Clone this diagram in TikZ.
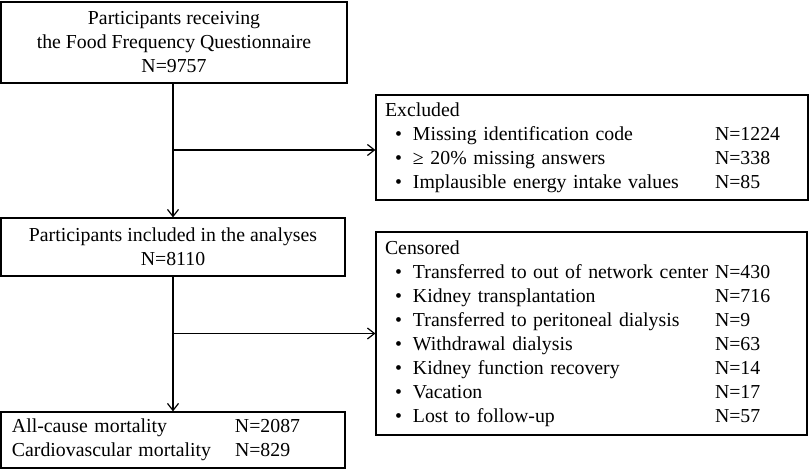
\documentclass[tikz,border=0pt]{standalone}
\usepackage{fontspec}
\setmainfont{Liberation Serif}
\usetikzlibrary{positioning,arrows.meta}

\tikzset{
    flowbox/.style={draw, line width=1.2pt, rectangle, inner sep=0pt, font=\fontsize{19.8}{24}\selectfont},
    flowarrow/.style={line width=1.2pt, -{Straight Barb[length=7pt,width=11pt]}},
}
\newcommand{\bulletrow}[2]{\hspace*{10pt}\makebox[18pt][l]{\textbullet}\makebox[302pt][l]{#1}#2}
\newcommand{\outcomerow}[2]{\makebox[223pt][l]{#1}#2}

\begin{document}
\begin{tikzpicture}[x=1pt,y=-1pt]
    \useasboundingbox (0,0) rectangle (812,470);

    % left column
    \node[flowbox, align=center, minimum width=346pt, minimum height=81pt] (recv) at (174,42.5)
        {Participants receiving\\the Food Frequency Questionnaire\\N=9757};
    \node[flowbox, align=center, minimum width=344pt, minimum height=58pt] (incl) at (173,247)
        {Participants included in the analyses\\N=8110};
    \node[flowbox, align=left, text width=322pt, inner xsep=11pt, minimum height=56pt] (mort) at (173,440)
        {\outcomerow{All-cause mortality}{N=2087}\\
         \outcomerow{Cardiovascular mortality}{N=829}};

    % right column
    \node[flowbox, align=left, text width=414pt, inner xsep=9pt, minimum height=105pt] (excl) at (592,147.5)
        {Excluded\\
         \bulletrow{Missing identification code}{N=1224}\\
         \bulletrow{≥ 20\% missing answers}{N=338}\\
         \bulletrow{Implausible energy intake values}{N=85}};
    \node[flowbox, align=left, text width=413pt, inner xsep=9pt, minimum height=203pt] (cens) at (591.5,333.5)
        {Censored\\
         \bulletrow{Transferred to out of network center}{N=430}\\
         \bulletrow{Kidney transplantation}{N=716}\\
         \bulletrow{Transferred to peritoneal dialysis}{N=9}\\
         \bulletrow{Withdrawal dialysis}{N=63}\\
         \bulletrow{Kidney function recovery}{N=14}\\
         \bulletrow{Vacation}{N=17}\\
         \bulletrow{Lost to follow-up}{N=57}};

    % connectors
    \draw[flowarrow] (incl.north |- recv.south) -- (incl.north);
    \draw[flowarrow] (incl.south) -- (mort.north);
    \coordinate (b1) at (incl.north |- 0,150);
    \coordinate (b2) at (incl.south |- cens.west);
    \draw[flowarrow] (b1) -- (excl.west |- b1);
    \draw[flowarrow] (b2) -- (cens.west);
\end{tikzpicture}
\end{document}
